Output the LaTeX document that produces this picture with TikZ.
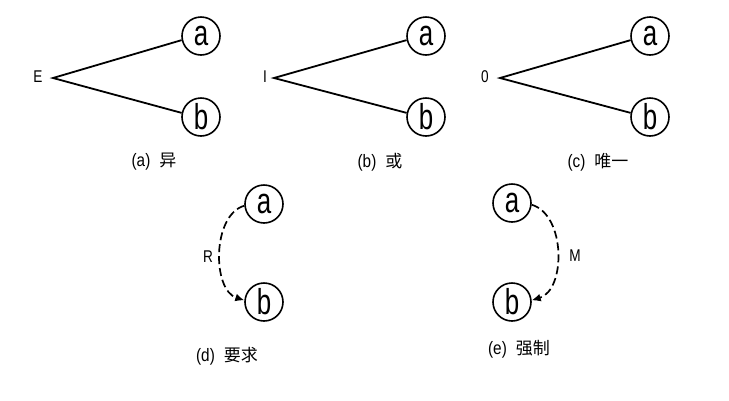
\documentclass[tikz,border=0pt]{standalone}
\usepackage{fontspec}
\setmainfont{Liberation Sans}
\newfontfamily\entf[FakeStretch=0.72]{Liberation Sans}
\newfontfamily\labf[FakeStretch=0.8]{Liberation Sans}
\newfontfamily\capf[FakeStretch=0.85]{Liberation Sans}
\newfontfamily\cjk{Noto Sans CJK SC}
\newcommand\cjktxt[1]{{\cjk\fontsize{17}{17}\selectfont #1}}
\usetikzlibrary{arrows.meta}
\begin{document}
\begin{tikzpicture}[x=1pt,y=-1pt,
  ent/.style={draw,circle,line width=1.6pt,minimum size=38pt,inner sep=0pt,font=\entf\fontsize{36}{36}\selectfont},
  lab/.style={font=\labf\fontsize{17}{17}\selectfont},
  captxt/.style={font=\capf\fontsize{18}{18}\selectfont},
  conn/.style={line width=1.8pt},
  dconn/.style={line width=1.7pt,dash pattern=on 8pt off 4pt,-{Latex[length=9pt,width=8pt]}}]
\useasboundingbox (0,0) rectangle (729,400);
% (a)
\node[lab] (E) at (38,77) {E};
\coordinate (pa) at (53,78);
\node[ent] (a1) at (201,36) {a};
\node[ent] (b1) at (201,117) {b};
\draw[conn] (a1.192) -- (pa) -- (b1.168);
\node[captxt] (c1) at (154,162) {(a)\hspace{9pt}\cjktxt{异}};
% (b)
\node[lab] (I) at (265,77) {I};
\coordinate (pb) at (274,78);
\node[ent] (a2) at (426,36) {a};
\node[ent] (b2) at (426,117) {b};
\draw[conn] (a2.192) -- (pb) -- (b2.168);
\node[captxt] (c2) at (380,162) {(b)\hspace{9pt}\cjktxt{或}};
% (c)
\node[lab] (O) at (485,77) {0};
\coordinate (pc) at (500,78);
\node[ent] (a3) at (650,36) {a};
\node[ent] (b3) at (650,117) {b};
\draw[conn] (a3.192) -- (pc) -- (b3.168);
\node[captxt] (c3) at (598,162) {(c)\hspace{9pt}\cjktxt{唯一}};
% (d)
\node[ent] (a4) at (264,204) {a};
\node[ent] (b4) at (264,302) {b};
\draw[dconn] (a4.185) .. controls (212,215) and (212,290) .. (b4.175);
\node[lab] (R) at (208,257) {R};
\node[captxt] (c4) at (227,356) {(d)\hspace{9pt}\cjktxt{要求}};
% (e)
\node[ent] (a5) at (512,203) {a};
\node[ent] (b5) at (512,302) {b};
\draw[dconn] (a5.355) .. controls (566,215) and (566,290) .. (b5.5);
\node[lab] (M) at (575,256) {M};
\node[captxt] (c5) at (519,349) {(e)\hspace{9pt}\cjktxt{强制}};
\end{tikzpicture}
\end{document}
